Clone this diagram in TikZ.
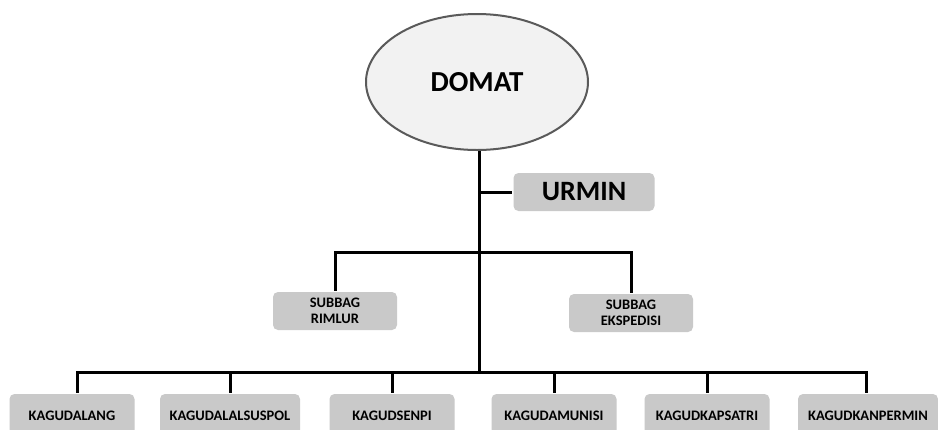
\documentclass[tikz,border=0pt]{standalone}
\usepackage{fontspec}
\setmainfont{Carlito}
\usepackage{tikz}
\usetikzlibrary{shapes.geometric}
\definecolor{boxgray}{HTML}{C9C9C9}
\definecolor{ovalfill}{HTML}{F2F2F2}
\definecolor{ovalline}{HTML}{5A5A5A}

\begin{document}
\begin{tikzpicture}[x=1pt, y=-1pt, line width=3pt,
  top/.style = {draw=ovalline, line width=2pt, fill=ovalfill, ellipse, minimum width=222pt, minimum height=136pt, inner sep=0pt, font=\fontsize{29}{33}\selectfont\bfseries},
  unit/.style = {fill=boxgray, rounded corners=5pt, inner sep=0pt, font=\fontsize{14.5}{16}\selectfont\bfseries, align=center},
  staff/.style = {unit, minimum width=124pt, minimum height=38pt},
  gud/.style = {unit, minimum width=125pt, minimum height=44pt}]
\clip (0,0) rectangle (938,429);
\fill[white] (0,0) rectangle (938,429);
\node[top] (domat) at (477,82) {DOMAT};
\node[unit, minimum width=141pt, minimum height=38pt, font=\fontsize{28}{32}\selectfont\bfseries] (urmin) at (584,192) {URMIN};
\node[staff] (rimlur) at (335,311) {SUBBAG\\RIMLUR};
\node[staff] (ekspedisi) at (631,313) {SUBBAG\\EKSPEDISI};
\node[gud] (kalang) at (72,416) {KAGUDALANG};
\node[gud, minimum width=140pt] (kalsuspol) at (230,416) {KAGUDALALSUSPOL};
\node[gud] (ksenpi) at (392,416) {KAGUDSENPI};
\node[gud] (kmunisi) at (554,416) {KAGUDAMUNISI};
\node[gud] (kkapsatri) at (707,416) {KAGUDKAPSATRI};
\node[gud, minimum width=140pt] (kkanpermin) at (868,416) {KAGUDKANPERMIN};
\coordinate (sbar) at (479,252);
\coordinate (bus) at (479,372);
% trunk and branches
\draw (domat.south -| bus) -- (bus);
\draw (bus |- urmin.west) -- (urmin.west);
\draw (rimlur.north) |- (sbar) -| (ekspedisi.north);
\draw (kalang.north -| 77,0) |- (bus) -| (kkanpermin.north -| 866,0);
\draw (kalsuspol.north) -- (kalsuspol.north |- bus);
\draw (ksenpi.north) -- (ksenpi.north |- bus);
\draw (kmunisi.north) -- (kmunisi.north |- bus);
\draw (kkapsatri.north) -- (kkapsatri.north |- bus);
\end{tikzpicture}
\end{document}
